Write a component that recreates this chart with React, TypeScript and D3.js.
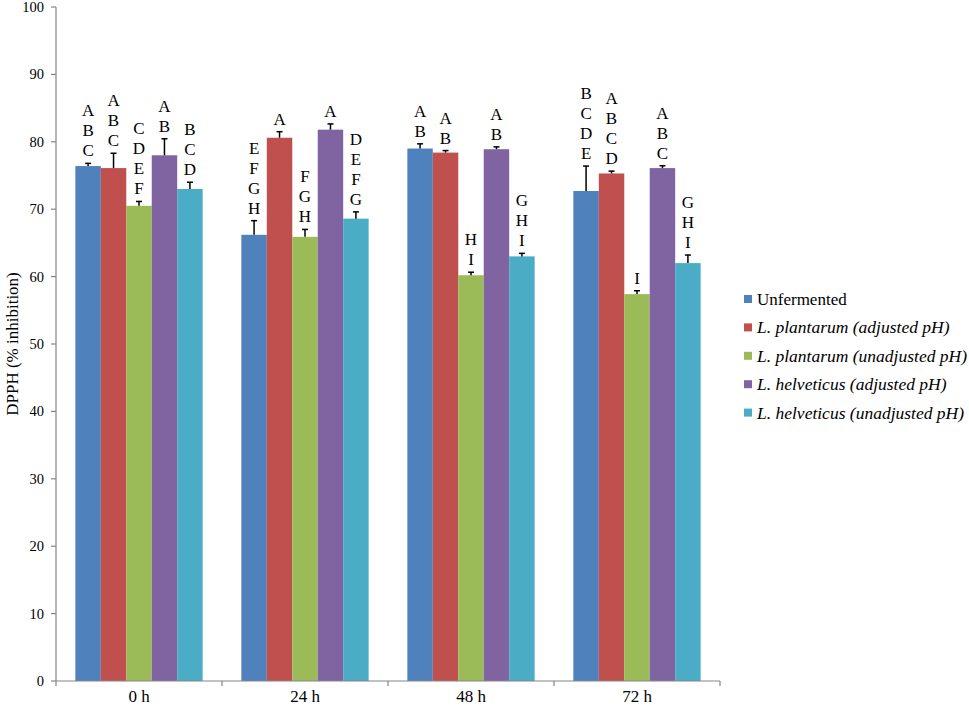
import React from 'react';
import * as d3 from 'd3';

const groups = ['0 h', '24 h', '48 h', '72 h'];
const series = [
  'Unfermented',
  'L. plantarum (adjusted pH)',
  'L. plantarum (unadjusted pH)',
  'L. helveticus (adjusted pH)',
  'L. helveticus (unadjusted pH)',
];
const colors = ['#4F81BD', '#C0504D', '#9BBB59', '#8064A2', '#4BACC6'];

// mean values per series, one entry per time point
const unfermented = [76.4, 66.2, 79.0, 72.7];
const plantarumAdj = [76.1, 80.6, 78.4, 75.3];
const plantarumUnadj = [70.5, 65.9, 60.2, 57.4];
const helveticusAdj = [78.0, 81.8, 78.9, 76.1];
const helveticusUnadj = [73.0, 68.6, 63.0, 62.0];

// upper error bar lengths
const errUnfermented = [0.4, 2.1, 0.7, 3.7];
const errPlantarumAdj = [2.2, 0.9, 0.3, 0.35];
const errPlantarumUnadj = [0.65, 1.1, 0.45, 0.5];
const errHelveticusAdj = [2.45, 0.85, 0.35, 0.35];
const errHelveticusUnadj = [1.0, 1.0, 0.45, 1.2];

// significance letters
const lettersUnfermented = ['ABC', 'EFGH', 'AB', 'BCDE'];
const lettersPlantarumAdj = ['ABC', 'A', 'AB', 'ABCD'];
const lettersPlantarumUnadj = ['CDEF', 'FGH', 'HI', 'I'];
const lettersHelveticusAdj = ['AB', 'A', 'AB', 'ABC'];
const lettersHelveticusUnadj = ['BCD', 'DEFG', 'GHI', 'GHI'];

const yTicks = [0, 10, 20, 30, 40, 50, 60, 70, 80, 90, 100];

const values = [unfermented, plantarumAdj, plantarumUnadj, helveticusAdj, helveticusUnadj];
const errors = [errUnfermented, errPlantarumAdj, errPlantarumUnadj, errHelveticusAdj, errHelveticusUnadj];
const letters = [lettersUnfermented, lettersPlantarumAdj, lettersPlantarumUnadj, lettersHelveticusAdj, lettersHelveticusUnadj];

const W = 969;
const H = 709;
const left = 56;
const right = 720;
const top = 7;
const bottom = 681;
const serif = { fontFamily: 'Liberation Serif' };
const axisColor = '#868686';

export default function App() {
  const x0 = d3.scaleBand<string>().domain(groups).range([left, right]);
  const x1 = d3.scaleBand<number>()
    .domain(d3.range(series.length))
    .range([0, x0.bandwidth()])
    .paddingOuter(0.76);
  const y = d3.scaleLinear().domain([0, 100]).range([bottom, top]);

  const bw = x1.bandwidth();

  return (
    <svg width={W} height={H} style={{ position: 'absolute', left: 0, top: 0, background: '#fff' }}>
      {/* bars */}
      {groups.map((g, gi) => (
        <g key={g} transform={`translate(${x0(g)},0)`}>
          {series.map((s, si) => {
            const v = values[si][gi];
            const e = errors[si][gi];
            const bx = x1(si) as number;
            const cx = bx + bw / 2;
            const errTop = y(v + e);
            const lab = letters[si][gi].split('');
            return (
              <g key={s}>
                <rect x={bx} y={y(v)} width={bw} height={y(0) - y(v)} fill={colors[si]} />
                <line x1={cx} x2={cx} y1={y(v)} y2={errTop} stroke="#000" strokeWidth={1.5} />
                <line x1={cx - 3} x2={cx + 3} y1={errTop} y2={errTop} stroke="#000" strokeWidth={1.5} />
                {lab.map((ch, li) => (
                  <text
                    key={li}
                    x={cx}
                    y={errTop - 7 - (lab.length - 1 - li) * 20}
                    textAnchor="middle"
                    style={serif}
                    fontSize={17}
                    fill="#000"
                  >
                    {ch}
                  </text>
                ))}
              </g>
            );
          })}
        </g>
      ))}

      {/* y axis */}
      <line x1={left} x2={left} y1={top} y2={bottom} stroke={axisColor} strokeWidth={1.2} />
      {yTicks.map(t => (
        <g key={t}>
          <line x1={left - 5} x2={left} y1={y(t)} y2={y(t)} stroke={axisColor} strokeWidth={1.2} />
          <text x={left - 12} y={y(t) + 5} textAnchor="end" style={serif} fontSize={14.5} fill="#000">
            {t}
          </text>
        </g>
      ))}

      {/* x axis */}
      <line x1={left} x2={right} y1={bottom} y2={bottom} stroke={axisColor} strokeWidth={1.2} />
      {[...groups.map(g => x0(g) as number), right].map((px, i) => (
        <line key={i} x1={px} x2={px} y1={bottom} y2={bottom + 5} stroke={axisColor} strokeWidth={1.2} />
      ))}
      {groups.map(g => (
        <text
          key={g}
          x={(x0(g) as number) + x0.bandwidth() / 2}
          y={bottom + 21}
          textAnchor="middle"
          style={serif}
          fontSize={17}
          fill="#000"
        >
          {g}
        </text>
      ))}

      {/* y axis title */}
      <text
        transform={`translate(18,${(top + bottom) / 2}) rotate(-90)`}
        textAnchor="middle"
        style={serif}
        fontSize={17}
        fill="#000"
      >
        DPPH (% inhibition)
      </text>

      {/* legend */}
      {series.map((s, si) => (
        <g key={s} transform={`translate(744,${299 + si * 28.4})`}>
          <rect x={0} y={-4} width={8} height={8} fill={colors[si]} />
          <text
            x={13}
            y={6}
            style={serif}
            fontSize={si === 0 ? 17 : 17.5}
            fontStyle={si === 0 ? 'normal' : 'italic'}
            fill="#000"
          >
            {s}
          </text>
        </g>
      ))}
    </svg>
  );
}
